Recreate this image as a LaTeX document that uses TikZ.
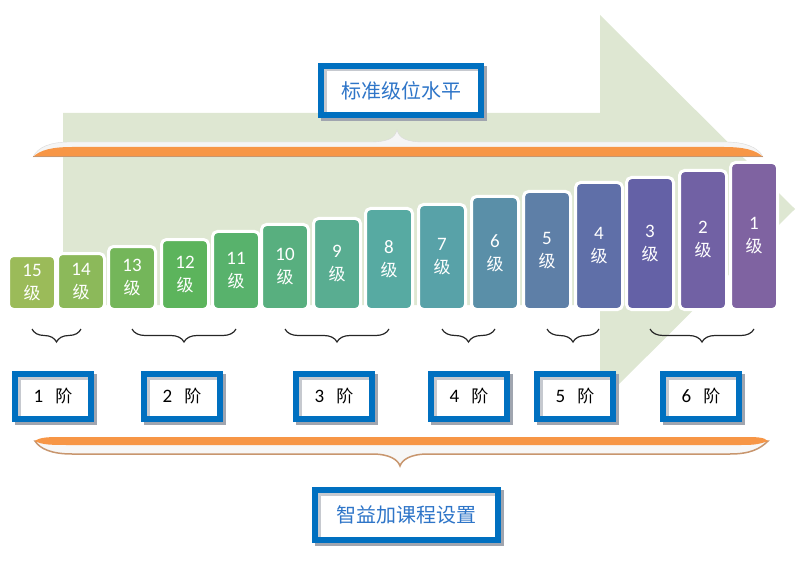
\documentclass[tikz,border=0pt]{standalone}
\usepackage{fontspec}
\setmainfont{Carlito}
\newfontfamily\cjk{Noto Sans CJK SC}
\usepackage{xcolor}
\usepackage{tikz}
\usetikzlibrary{decorations.pathreplacing}
\usetikzlibrary{shadows}

\definecolor{arrowgreen}{RGB}{222,231,210}
\definecolor{frameblue}{RGB}{0,112,192}
\definecolor{textblue}{RGB}{46,117,200}
\definecolor{braceorange}{RGB}{247,150,70}
\definecolor{bracetan}{RGB}{200,150,110}
\definecolor{shadowgray}{RGB}{160,165,175}
% level colours
\definecolor{lv15}{HTML}{9BBB59}
\definecolor{lv14}{HTML}{8CB95A}
\definecolor{lv13}{HTML}{74B65A}
\definecolor{lv12}{HTML}{5CB45C}
\definecolor{lv11}{HTML}{58B26C}
\definecolor{lv10}{HTML}{58AF7F}
\definecolor{lv9}{HTML}{59AD91}
\definecolor{lv8}{HTML}{57AAA2}
\definecolor{lv7}{HTML}{58A2A8}
\definecolor{lv6}{HTML}{5A8FA8}
\definecolor{lv5}{HTML}{5E7FA7}
\definecolor{lv4}{HTML}{5F6FA8}
\definecolor{lv3}{HTML}{6461A6}
\definecolor{lv2}{HTML}{7161A4}
\definecolor{lv1}{HTML}{7F63A1}

\newcommand{\lvtext}[1]{{\fontsize{19}{23}\selectfont #1}\\{\cjk 级}}
\newcommand{\stagetext}[1]{{\fontsize{19}{22}\selectfont #1}\hspace{0.7em}{\cjk 阶}}

\begin{document}
\begin{tikzpicture}[x=1pt,y=-1pt,
  bar/.style={draw=white, line width=3pt, rounded corners=5pt, text=white,
    align=center, minimum width=47pt, inner sep=0pt,
    font=\fontsize{17}{23}\selectfont},
  framebox/.style={draw=frameblue, line width=6pt, fill=white, inner sep=0pt,
    drop shadow={shadow xshift=3pt, shadow yshift=-3pt, fill=shadowgray,
      draw=shadowgray, line width=6pt, opacity=1},
    path picture={\draw[shadowgray!60, line width=11pt]
      (path picture bounding box.south west) -- (path picture bounding box.north west)
      -- (path picture bounding box.north east);}},
  stagebox/.style={framebox, minimum width=76pt, minimum height=45pt,
    font=\fontsize{17}{22}\selectfont},
  titlebox/.style={framebox, text=textblue, font=\cjk\fontsize{20}{24}\selectfont},
  smallbrace/.style={decorate, decoration={brace, mirror, amplitude=13pt},
    line width=1.2pt, black!85}
]
\useasboundingbox (0,0) rectangle (803,572);

% Background arrow
\fill[arrowgreen] (63,113) -- (600,113) -- (600,15) -- (795,209)
  -- (600,403) -- (600,305) -- (63,305) -- cycle;

% Upper brace
\fill[gray!8, draw=gray!30] (33,157) .. controls (38,147) and (50,142) .. (70,142)
  -- (370,142) .. controls (388,142) and (395,138) .. (397,130)
  .. controls (399,138) and (406,142) .. (424,142)
  -- (725,142) .. controls (745,142) and (758,147) .. (763,157) -- cycle;
\fill[braceorange] (33,157) .. controls (40,150) and (52,147) .. (72,147)
  -- (724,147) .. controls (744,147) and (756,150) .. (763,157) -- cycle;
\draw[bracetan, line width=1pt] (33,157) -- (763,157);

% Lower brace
\fill[gray!6, draw=bracetan, line width=1.5pt] (35,441) -- (768,441)
  .. controls (760,449) and (750,454) .. (730,454)
  -- (428,454) .. controls (410,454) and (402,460) .. (400,466)
  .. controls (398,460) and (390,454) .. (372,454)
  -- (72,454) .. controls (52,454) and (40,449) .. (35,441) -- cycle;
\fill[braceorange] (35,441) .. controls (40,437) and (50,437) .. (62,437)
  -- (744,437) .. controls (756,437) and (764,437) .. (768,441)
  .. controls (758,445) and (750,445) .. (740,445)
  -- (70,445) .. controls (52,445) and (42,445) .. (35,441) -- cycle;

% Title boxes
\node[titlebox, minimum width=160pt, minimum height=49pt] (title) at (401,90.5) {标准级位水平};
\node[titlebox, minimum width=183pt, minimum height=50pt] (course) at (406.5,515) {智益加课程设置};

% Level bars
\foreach \n/\l/\t in {15/10/257, 14/59/255, 13/110/248, 12/163/241, 11/214/233,
    10/263/226, 9/315/220, 8/367/210, 7/420/206, 6/473/198,
    5/525/193, 4/577/184, 3/628/179, 2/681/172, 1/732/164} {
  \pgfmathsetmacro\h{311-\t}
  \node[bar, fill=lv\n, minimum height=\h pt] (b\n) at ({\l+22},{(\t+308)/2}) {\lvtext{\n}};
}

% Braces under the bars
\draw[smallbrace] ([yshift=-18pt]b15.south) -- ([yshift=-18pt]b14.south);
\draw[smallbrace] ([yshift=-18pt]b13.south) -- ([yshift=-18pt]b11.south);
\draw[smallbrace] ([yshift=-18pt]b10.south) -- ([yshift=-18pt]b8.south);
\draw[smallbrace] ([yshift=-18pt]b7.south) -- ([yshift=-18pt]b6.south);
\draw[smallbrace] ([yshift=-18pt]b5.south) -- ([yshift=-18pt]b4.south);
\draw[smallbrace] ([yshift=-18pt]b3.south) -- ([yshift=-18pt]b1.south);

% Stage boxes
\node[stagebox] (s1) at (53,396.5) {\stagetext{1}};
\node[stagebox] (s2) at (182,396.5) {\stagetext{2}};
\node[stagebox] (s3) at (334,396.5) {\stagetext{3}};
\node[stagebox] (s4) at (469,396.5) {\stagetext{4}};
\node[stagebox] (s5) at (575,396.5) {\stagetext{5}};
\node[stagebox] (s6) at (701,396.5) {\stagetext{6}};

\end{tikzpicture}
\end{document}
